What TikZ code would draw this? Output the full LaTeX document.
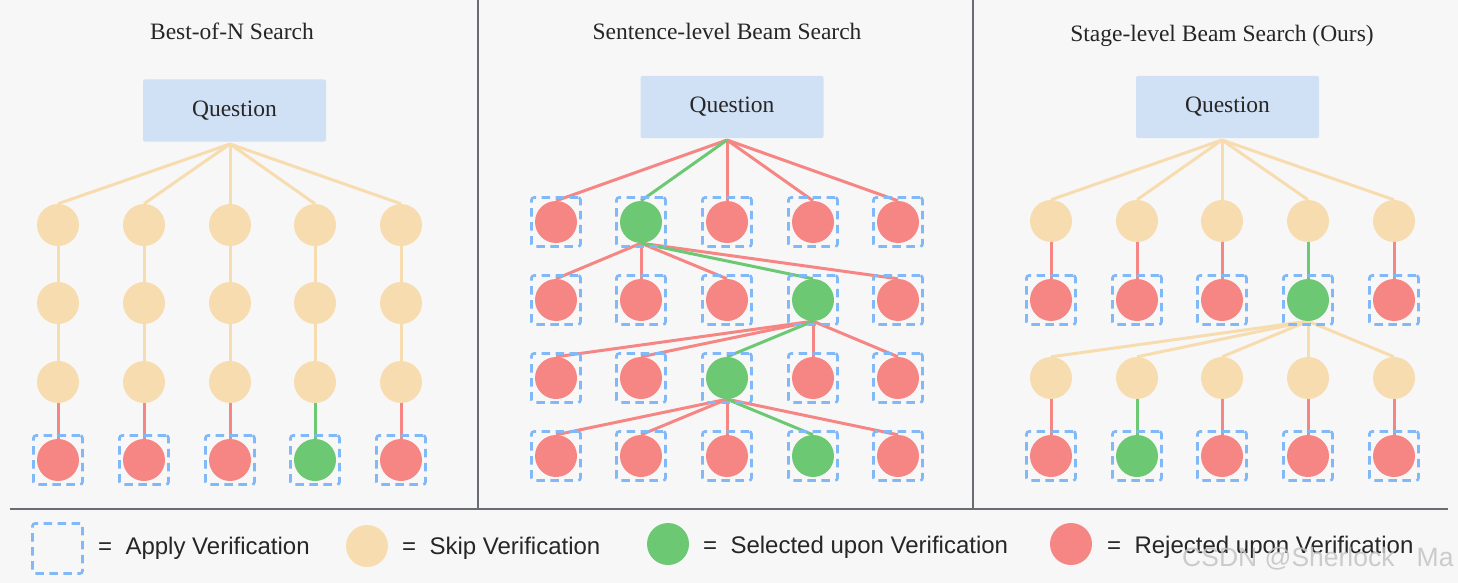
\documentclass[tikz,border=0pt]{standalone}
\usepackage{fontspec}
\setmainfont{Liberation Serif}
\setsansfont{Liberation Sans}
\definecolor{cbg}{HTML}{F7F7F7}
\definecolor{cyel}{HTML}{F7DCB0}
\definecolor{cred}{HTML}{F68684}
\definecolor{cgrn}{HTML}{6CC873}
\definecolor{cblue}{HTML}{80B8F8}
\definecolor{cq}{HTML}{D1E1F5}
\definecolor{cdiv}{HTML}{696C71}
\definecolor{ctxt}{HTML}{262626}
\definecolor{cwm}{HTML}{C4C4C4}
\pgfdeclarelayer{bgl}
\pgfdeclarelayer{edges}
\pgfsetlayers{bgl,edges,main}
\tikzset{
  nd/.style={circle, inner sep=0pt, minimum size=42pt, draw=none},
  ynd/.style={nd, fill=cyel},
  rnd/.style={nd, fill=cred},
  gnd/.style={nd, fill=cgrn},
  vbox/.style={draw=cblue, dash pattern=on 8.5pt off 5.5pt, line width=2.6pt, rounded corners=2.5pt, minimum size=49pt, inner sep=0pt},
  yl/.style={draw=cyel, line width=3pt},
  rl/.style={draw=cred, line width=3pt},
  gl/.style={draw=cgrn, line width=3pt},
  qbox/.style={fill=cq, rounded corners=2pt, minimum width=183pt, minimum height=62pt, inner sep=0pt, text=ctxt, font=\fontsize{23.5}{28}\selectfont, text height=12pt, text depth=0pt},
  ttl/.style={anchor=base, inner sep=0pt, text=ctxt, font=\fontsize{23.5}{28}\selectfont},
  leg/.style={anchor=base west, inner sep=0pt, text=ctxt, font=\sffamily\fontsize{24}{28}\selectfont},
  divl/.style={draw=cdiv, line width=2.5pt},
}
\begin{document}
\begin{tikzpicture}[x=1pt,y=-1pt]
\useasboundingbox (0,0) rectangle (1458,583);
\begin{pgfonlayer}{bgl}
\fill[cbg] (0,0) rectangle (1458,583);
\end{pgfonlayer}

% dividers
\coordinate (d1a) at (478,0); \coordinate (d1b) at (478,508);
\coordinate (d2a) at (973,0); \coordinate (d2b) at (973,508);
\coordinate (h1) at (10,509); \coordinate (h2) at (1448,509);
\draw[divl] (d1a) -- (d1b);
\draw[divl] (d2a) -- (d2b);
\draw[divl] (h1) -- (h2);

% titles
\node[ttl] (t1) at (232,40) {Best-of-N Search};
\node[ttl] (t2) at (727,40) {Sentence-level Beam Search};
\node[ttl] (t3) at (1222,42) {Stage-level Beam Search (Ours)};

% question boxes
\node[qbox] (LQ) at (234.5,110.5) {Question};
\node[qbox] (MQ) at (732,107) {Question};
\node[qbox] (RQ) at (1227.5,107) {Question};
\coordinate (LQa) at (230,144);
\coordinate (MQa) at (727,140);
\coordinate (RQa) at (1222,140);

% ---------- Left panel ----------
\foreach \c/\x in {1/58,2/144,3/230,4/315,5/401} {
  \foreach \r/\y in {1/225,2/303,3/382} {
    \node[ynd] (L\r\c) at (\x,\y) {};
  }
  \node[vbox] (LB\c) at (\x,460) {};
  \ifnum\c=4
    \node[gnd] (L4\c) at (\x,460) {};
  \else
    \node[rnd] (L4\c) at (\x,460) {};
  \fi
}
\begin{pgfonlayer}{edges}
\foreach \c in {1,...,5} {
  \draw[yl] (LQa) -- (L1\c.north);
  \draw[yl] (L1\c) -- (L2\c);
  \draw[yl] (L2\c) -- (L3\c);
  \ifnum\c=4
    \draw[gl] (L3\c) -- (L4\c);
  \else
    \draw[rl] (L3\c) -- (L4\c);
  \fi
}
\end{pgfonlayer}

% ---------- Middle panel ----------
\foreach \r/\y/\g in {1/222/2,2/300/4,3/378/3,4/456/4} {
  \foreach \c/\x in {1/556,2/641,3/727,4/813,5/898} {
    \node[vbox] (MB\r\c) at (\x,\y) {};
    \ifnum\c=\g
      \node[gnd] (M\r\c) at (\x,\y) {};
    \else
      \node[rnd] (M\r\c) at (\x,\y) {};
    \fi
  }
}
\begin{pgfonlayer}{edges}
\foreach \c in {1,3,4,5} \draw[rl] (MQa) -- (M1\c.north);
\draw[gl] (MQa) -- (M12.north);
\foreach \c in {1,2,3,5} \draw[rl] (M12.south) -- (M2\c.north);
\draw[gl] (M12.south) -- (M24.north);
\foreach \c in {1,2,4,5} \draw[rl] (M24.south) -- (M3\c.north);
\draw[gl] (M24.south) -- (M33.north);
\foreach \c in {1,2,3,5} \draw[rl] (M33.south) -- (M4\c.north);
\draw[gl] (M33.south) -- (M44.north);
\end{pgfonlayer}

% ---------- Right panel ----------
\foreach \c/\x in {1/1051,2/1137,3/1222,4/1308,5/1394} {
  \node[ynd] (R1\c) at (\x,221) {};
  \node[vbox] (RB2\c) at (\x,300) {};
  \ifnum\c=4
    \node[gnd] (R2\c) at (\x,300) {};
  \else
    \node[rnd] (R2\c) at (\x,300) {};
  \fi
  \node[ynd] (R3\c) at (\x,378) {};
  \node[vbox] (RB4\c) at (\x,456) {};
  \ifnum\c=2
    \node[gnd] (R4\c) at (\x,456) {};
  \else
    \node[rnd] (R4\c) at (\x,456) {};
  \fi
}
\begin{pgfonlayer}{edges}
\foreach \c in {1,...,5} {
  \draw[yl] (RQa) -- (R1\c.north);
  \ifnum\c=4
    \draw[gl] (R1\c) -- (R2\c);
  \else
    \draw[rl] (R1\c) -- (R2\c);
  \fi
  \draw[yl] (R24.south) -- (R3\c.north);
  \ifnum\c=2
    \draw[gl] (R3\c) -- (R4\c);
  \else
    \draw[rl] (R3\c) -- (R4\c);
  \fi
}
\end{pgfonlayer}

% ---------- Legend ----------
\node[vbox, minimum size=50pt] (lgA) at (57.5,548.5) {};
\node[leg] (lgAt) at (98,554) {=\ \ Apply Verification};
\node[ynd] (lgS) at (367,546) {};
\node[leg] (lgSt) at (402,554) {=\ \ Skip Verification};
\node[gnd] (lgG) at (668,544) {};
\node[leg] (lgGt) at (703,553) {=\ \ Selected upon Verification};
\node[rnd] (lgR) at (1071,544) {};
\node[leg] (lgRt) at (1107,553) {=\ \ Rejected upon Verification};

% watermark
\node[anchor=base west, inner sep=0pt, text=cwm, opacity=0.85, font=\sffamily\fontsize{26.5}{30}\selectfont] (wm) at (1182,566) {CSDN @Sherlock\ \ \ Ma};
\end{tikzpicture}
\end{document}
